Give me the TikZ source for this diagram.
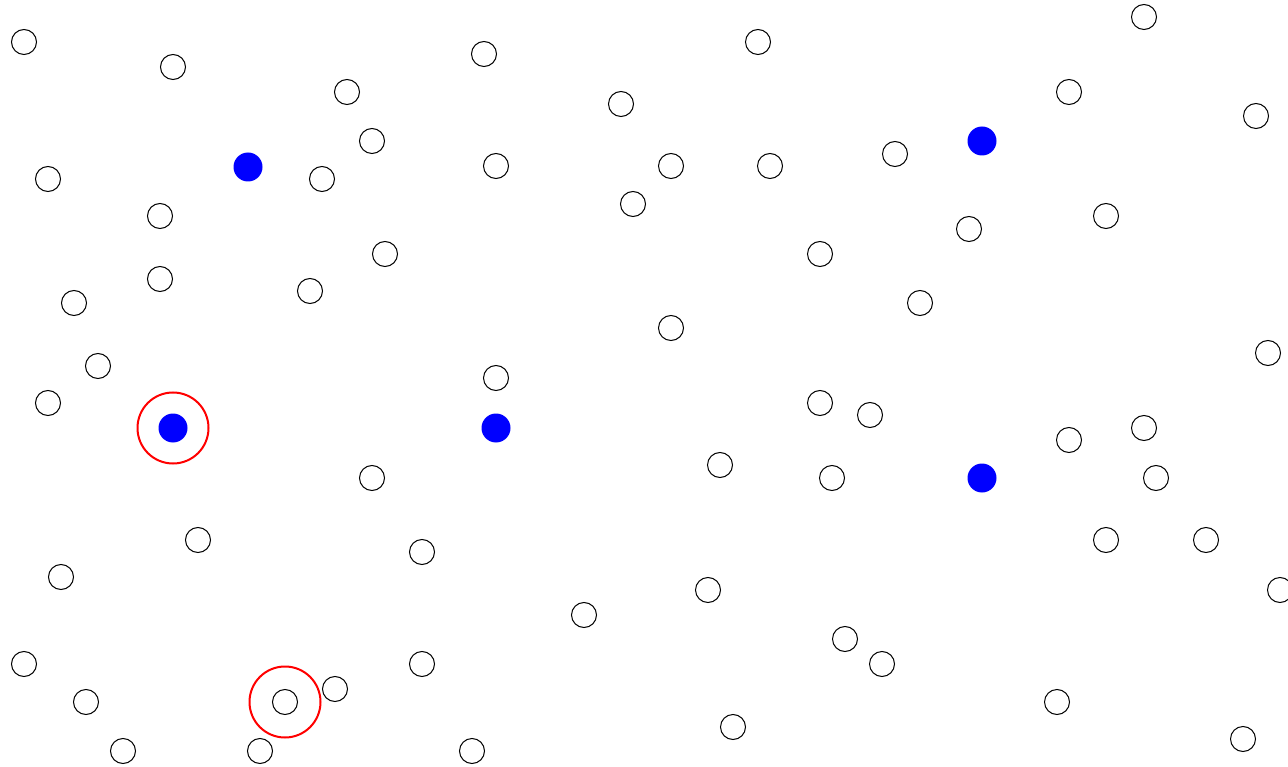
\documentclass[tikz,border=0pt]{standalone}
\begin{document}
\begin{tikzpicture}[x=1pt,y=-1pt,
  pt/.style={circle,draw=black,line width=1pt,minimum size=25pt,inner sep=0pt},
  hub/.style={circle,fill=blue,draw=none,minimum size=29pt,inner sep=0pt},
  ring/.style={circle,draw=red,line width=2pt,minimum size=71pt,inner sep=0pt}]
\useasboundingbox (0,0) rectangle (1288,767);
\begin{scope}
\clip (0,0) rectangle (1288,767);
\foreach \x/\y [count=\i] in {24/42,173/67,484/54,758/42,1144/17,347/92,621/104,1069/92,1256/116,
  372/141,48/179,322/179,496/166,671/166,770/166,895/154,160/216,633/204,969/229,1106/216,
  385/254,820/254,160/279,74/303,310/291,920/303,671/328,98/366,1268/353,496/378,48/403,
  820/403,870/415,1069/440,1144/428,372/478,720/465,832/478,1156/478,198/540,422/552,
  1106/540,1206/540,61/577,1280/590,584/615,708/590,845/639,882/664,24/664,422/664,
  335/689,285/702,86/702,1057/702,733/727,1243/739,123/751,260/751,472/751}
  \node[pt] (p\i) at (\x,\y) {};
\node[hub] (h1) at (248,167) {};
\node[hub] (h2) at (982,141) {};
\node[hub] (h3) at (173,428) {};
\node[hub] (h4) at (496,428) {};
\node[hub] (h5) at (982,478) {};
\node[ring] (r1) at (173,428) {};
\node[ring] (r2) at (285,702) {};
\end{scope}
\end{tikzpicture}
\end{document}
